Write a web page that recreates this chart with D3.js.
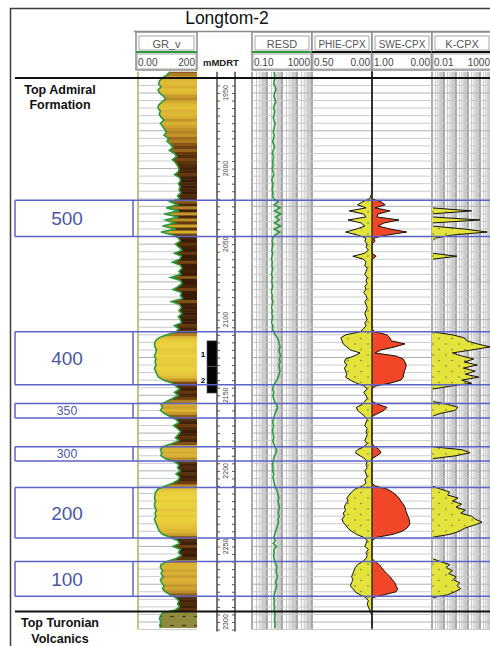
<!DOCTYPE html>
<html>
<head>
<meta charset="utf-8">
<script src="https://cdn.jsdelivr.net/npm/d3@7"></script>
<style>
  html, body { margin: 0; padding: 0; background: #fff; }
  svg { display: block; font-family: "Liberation Sans", Arial, sans-serif; }
</style>
</head>
<body>
<svg id="chart" width="490" height="646"></svg>
<script>
// ---- Well data -------------------------------------------------------------
const wellName = "Longtom-2";
const depthStart = 1936;   // first sample, m MDRT
const depthStep = 2;       // sample interval, m

// Gamma ray (API), 2 m samples from 1936 m
const gr = [
  110,100,85,75,72,80,70,75,88,95,
  82,72,70,78,74,80,90,78,85,92,
  98,90,105,100,112,120,108,125,132,118,
  128,135,140,138,125,142,145,138,144,140,
  146,135,142,110,135,98,140,90,138,95,
  125,85,130,80,120,138,145,128,140,150,
  125,148,142,118,145,150,140,146,112,145,
  150,138,120,148,145,152,115,142,148,140,
  150,138,145,148,125,140,130,100,72,62,
  58,60,65,62,58,63,60,64,58,62,
  66,72,90,118,130,142,125,138,120,100,
  80,85,78,90,110,130,140,122,135,145,
  138,128,140,115,85,78,82,80,95,125,
  140,135,145,130,142,138,120,95,70,62,
  60,58,62,58,60,65,60,63,58,62,
  66,70,75,85,110,135,142,120,145,138,
  148,130,100,80,78,85,80,88,78,82,
  90,85,95,110,130,140,135,142,128,85,
  78,75,80,76,78
];

// Deep resistivity (ohm.m)
const resd = [
  3.0,3.2,3.5,3.0,2.8,3.6,4.0,3.2,2.9,3.4,
  3.8,3.1,2.7,3.3,3.0,2.6,2.9,3.5,3.1,2.8,
  2.6,3.0,2.7,2.4,2.8,3.2,2.5,2.3,2.7,2.5,
  2.4,2.6,2.2,2.5,2.8,2.3,2.1,2.6,2.4,2.2,
  2.5,2.3,2.8,5.5,3.0,7.5,3.2,8.5,3.8,6.5,
  3.2,8.0,3.0,7.0,3.4,2.4,2.2,2.5,2.3,2.1,
  2.4,2.2,2.0,2.3,2.1,2.4,2.2,2.0,2.3,2.1,
  2.2,2.4,2.1,2.0,2.3,2.1,2.5,2.2,2.0,2.3,
  2.1,2.4,2.2,2.0,2.5,2.3,2.8,3.5,5.0,6.0,
  6.5,7.5,6.2,7.0,8.0,6.5,7.5,6.0,6.8,7.2,
  6.4,5.6,4.5,3.4,2.6,2.4,2.8,2.5,2.7,3.2,
  4.2,5.0,4.2,3.5,3.0,2.6,2.4,2.7,2.5,2.3,
  2.6,2.8,2.4,2.7,3.5,4.2,4.0,3.3,2.8,2.5,
  2.3,2.6,2.4,2.8,2.5,2.7,3.0,3.4,4.2,5.0,
  5.5,6.2,5.4,6.0,6.8,6.0,5.6,6.4,5.4,5.8,
  5.0,4.4,3.8,3.3,2.8,3.6,2.6,4.2,2.8,3.0,
  2.7,3.0,3.4,4.0,4.6,4.0,4.4,5.0,4.2,3.8,
  4.4,3.9,3.4,3.0,2.8,3.1,2.9,3.2,3.0,3.3,
  3.5,3.2,3.4,3.6,3.3
];

// Effective porosity (v/v)
const phie = [
  0,0,0,0,0,0,0,0,0,0,
  0,0,0,0,0,0,0,0,0,0,
  0,0,0,0,0,0,0,0,0,0,
  0,0,0,0,0,0,0,0,0,0,
  0,0.01,0.02,0.08,0.12,0.05,0.19,0.07,0.05,0.20,
  0.09,0.06,0.13,0.22,0.12,0.05,0.06,0.04,0.05,0.03,
  0.06,0.16,0.07,0.05,0.06,0.04,0.05,0.06,0.04,0.05,
  0.04,0.06,0.05,0.07,0.05,0.04,0.06,0.05,0.04,0.05,
  0.06,0.05,0.04,0.06,0.05,0.07,0.10,0.22,0.26,0.25,
  0.24,0.21,0.18,0.10,0.15,0.22,0.23,0.21,0.23,0.22,
  0.21,0.22,0.18,0.13,0.06,0.04,0.07,0.05,0.04,0.06,
  0.08,0.13,0.12,0.09,0.06,0.04,0.05,0.06,0.04,0.05,
  0.04,0.05,0.06,0.04,0.07,0.12,0.14,0.10,0.06,0.04,
  0.05,0.04,0.06,0.05,0.04,0.06,0.05,0.08,0.14,0.17,
  0.19,0.21,0.20,0.22,0.23,0.22,0.24,0.23,0.25,0.24,
  0.22,0.20,0.17,0.13,0.07,0.04,0.05,0.06,0.03,0.05,
  0.04,0.05,0.08,0.12,0.14,0.15,0.16,0.17,0.16,0.17,
  0.18,0.16,0.14,0.10,0.05,0.03,0.04,0.03,0.02,0.01,
  0,0,0,0,0
];

// Effective water saturation (v/v)
const swe = [
  1,1,1,1,1,1,1,1,1,1,
  1,1,1,1,1,1,1,1,1,1,
  1,1,1,1,1,1,1,1,1,1,
  1,1,1,1,1,1,1,1,1,1,
  1,1,1,0.85,0.78,0.95,0.70,0.90,0.92,0.55,
  0.80,0.90,0.70,0.42,0.75,0.97,0.95,1,1,1,
  1,0.93,1,1,1,1,1,1,1,1,
  1,1,1,1,1,1,1,1,1,1,
  1,1,1,1,1,1,0.95,0.75,0.70,0.68,
  0.45,0.62,0.85,0.95,0.60,0.48,0.45,0.43,0.44,0.46,
  0.47,0.48,0.52,0.70,0.95,1,1,1,1,1,
  0.90,0.75,0.80,0.90,1,1,1,1,1,1,
  1,1,1,1,0.95,0.88,0.85,0.92,1,1,
  1,1,1,1,1,1,1,0.95,0.75,0.66,
  0.60,0.55,0.52,0.48,0.45,0.44,0.42,0.40,0.38,0.37,
  0.38,0.42,0.50,0.65,0.92,1,1,1,1,1,
  1,1,0.95,0.88,0.84,0.80,0.75,0.70,0.66,0.62,
  0.60,0.57,0.60,0.80,1,1,1,1,1,1,
  1,1,1,1,1
];

// Permeability (mD); 0.01 is the track floor
const perm = [
  0.01,0.01,0.01,0.01,0.01,0.01,0.01,0.01,0.01,0.01,
  0.01,0.01,0.01,0.01,0.01,0.01,0.01,0.01,0.01,0.01,
  0.01,0.01,0.01,0.01,0.01,0.01,0.01,0.01,0.01,0.01,
  0.01,0.01,0.01,0.01,0.01,0.01,0.01,0.01,0.01,0.01,
  0.01,0.01,0.01,0.01,0.01,0.01,20,0.01,0.01,100,
  0.01,0.01,5,400,0.5,0.02,0.01,0.01,0.01,0.01,
  0.01,1.2,0.01,0.01,0.01,0.01,0.01,0.01,0.01,0.01,
  0.01,0.01,0.01,0.01,0.01,0.01,0.01,0.01,0.01,0.01,
  0.01,0.01,0.01,0.01,0.01,0.01,0.01,0.5,5,8,
  60,700,20,0.5,3,30,5,60,4,40,
  6,80,3,20,0.3,0.01,0.01,0.01,0.01,0.01,
  0.2,1.5,0.8,0.05,0.01,0.01,0.01,0.01,0.01,0.01,
  0.01,0.01,0.01,0.01,0.01,3,15,1,0.01,0.01,
  0.01,0.01,0.01,0.01,0.01,0.01,0.01,0.01,0.05,0.3,
  0.2,1.5,0.5,3,1,6,2.5,20,40,150,
  30,5,2,0.3,0.01,0.01,0.01,0.01,0.01,0.01,
  0.01,0.01,0.05,0.3,0.15,0.5,0.25,1,0.6,2,
  1.2,2.5,0.8,0.2,0.01,0.01,0.01,0.01,0.01,0.01,
  0.01,0.01,0.01,0.01,0.01
];

// Reservoir zones (m MDRT)
const zoneLabels = ["500", "400", "350", "300", "200", "100"];
const zoneTops   = [2021, 2108, 2155.5, 2184, 2211, 2260];
const zoneBases  = [2045, 2143, 2165, 2193.5, 2244.5, 2283];

// Formation tops
const topNames  = [["Top Admiral", "Formation"], ["Top Turonian", "Volcanics"]];
const topDepths = [1940, 2293];

// Core intervals
const coreLabels = ["1", "2"];
const coreTops   = [2114, 2131];
const coreBases  = [2131, 2148.5];

// Depth annotation
const depthLabels = [1950, 2000, 2050, 2100, 2150, 2200, 2250, 2300];

// Track headers
const trackNames = ["GR_v", "RESD", "PHIE-CPX", "SWE-CPX", "K-CPX"];
const trackLeft  = ["0.00", "0.10", "0.50", "1.00", "0.01"];
const trackRight = ["200", "1000", "0.00", "0.00", "1000"];

// ---- Layout ----------------------------------------------------------------
const svg = d3.select("#chart");
const samples = gr.map((v, i) => ({
  depth: depthStart + i * depthStep,
  gr: v, resd: resd[i], phie: phie[i], swe: swe[i], perm: perm[i]
}));
const depthEnd = 2305;

const y = d3.scaleLinear().domain([1950, 2300]).range([93, 622]);
const yTop = y(depthStart), yBot = y(depthEnd);

const X = { gr: [137, 197], depth: [197, 250], res: [252, 312], phi: [312, 372], sw: [372, 432], k: [432, 492] };
const xGR  = d3.scaleLinear().domain([0, 200]).range(X.gr).clamp(true);
const xRes = d3.scaleLog().domain([0.1, 1000]).range(X.res).clamp(true);
const xPhi = d3.scaleLinear().domain([0.5, 0]).range(X.phi).clamp(true);
const xSw  = d3.scaleLinear().domain([1, 0]).range(X.sw).clamp(true);
const xK   = d3.scaleLog().domain([0.01, 1000]).range(X.k).clamp(true);

const grColor = d3.scaleLinear()
  .domain([58, 80, 100, 120, 145])
  .range(["#ecd23e", "#d8b032", "#b07e22", "#6e4012", "#3a1c07"])
  .clamp(true);

const BLUE = "#5b63c6", BLUE_TEXT = "#4a57a6", GREEN = "#2c9a3b";
const YELLOW = "#e3e33b", RED = "#ef4727";

// ---- Defs ------------------------------------------------------------------
const defs = svg.append("defs");
const sand = defs.append("pattern").attr("id", "sand").attr("patternUnits", "userSpaceOnUse")
  .attr("width", 13).attr("height", 11);
sand.append("rect").attr("width", 13).attr("height", 11).attr("fill", YELLOW);
sand.append("circle").attr("cx", 4).attr("cy", 3).attr("r", 0.7).attr("fill", "#555");
sand.append("circle").attr("cx", 10).attr("cy", 8.5).attr("r", 0.7).attr("fill", "#555");

const volc = defs.append("pattern").attr("id", "volc").attr("patternUnits", "userSpaceOnUse")
  .attr("width", 12).attr("height", 9);
volc.append("rect").attr("width", 12).attr("height", 9).attr("fill", "#8e8b3c");
volc.append("line").attr("x1", 2).attr("x2", 6).attr("y1", 4.5).attr("y2", 4.5)
  .attr("stroke", "#3f3d16").attr("stroke-width", 1.2);

const grClipArea = d3.area().y(d => y(d.depth)).x0(d => xGR(d.gr)).x1(X.gr[1]);
defs.append("clipPath").attr("id", "grclip").append("path").attr("d", grClipArea(samples));
defs.append("clipPath").attr("id", "kclip").append("rect")
  .attr("x", X.k[0] + 1).attr("y", yTop).attr("width", 80).attr("height", yBot - yTop);

// ---- Frame and title ---------------------------------------------------------
svg.append("rect").attr("x", 10.5).attr("y", 8.5).attr("width", 520).attr("height", 700)
  .attr("fill", "none").attr("stroke", "#3c3c3c").attr("stroke-width", 1.5);
svg.append("text").attr("x", 227).attr("y", 24).attr("text-anchor", "middle")
  .attr("font-size", 17.5).attr("fill", "#111").text(wellName);

// ---- Grids -----------------------------------------------------------------
const grid = svg.append("g");
function logGrid(scale, decades) {
  decades.forEach(e => {
    for (let m = 1; m <= 9; m++) {
      const v = m * Math.pow(10, e);
      grid.append("line").attr("x1", scale(v)).attr("x2", scale(v)).attr("y1", yTop).attr("y2", yBot)
        .attr("stroke", m === 1 ? "#a2a2a2" : "#c6c6c6").attr("stroke-width", m === 1 ? 1.8 : 1);
    }
  });
  const last = scale.domain()[1];
  grid.append("line").attr("x1", scale(last)).attr("x2", scale(last)).attr("y1", yTop).attr("y2", yBot)
    .attr("stroke", "#a2a2a2").attr("stroke-width", 1.8);
}
logGrid(xRes, [-1, 0, 1, 2]);
logGrid(xK, [-2, -1, 0, 1, 2]);

const gridDepths = d3.range(1940, depthEnd + 1, 5);
[[X.gr[0] + 2, X.gr[1]], [X.res[0], X.k[1]]].forEach(([a, b]) => {
  grid.selectAll(null).data(gridDepths).enter().append("line")
    .attr("x1", a).attr("x2", b).attr("y1", d => y(d)).attr("y2", d => y(d))
    .attr("stroke", d => d % 25 === 0 ? "#b0b0b0" : "#cacaca").attr("stroke-width", 1);
});

// ---- GR track ----------------------------------------------------------------
svg.append("line").attr("x1", X.gr[0] + 1).attr("x2", X.gr[0] + 1).attr("y1", yTop).attr("y2", yBot)
  .attr("stroke", "#c8bf86").attr("stroke-width", 2);
const grFill = svg.append("g").attr("clip-path", "url(#grclip)");
grFill.selectAll("rect").data(samples).enter().append("rect")
  .attr("x", X.gr[0]).attr("width", X.gr[1] - X.gr[0])
  .attr("y", d => y(d.depth - depthStep / 2))
  .attr("height", d => y(d.depth + depthStep / 2) - y(d.depth - depthStep / 2) + 0.5)
  .attr("fill", d => d.depth >= topDepths[1] ? "url(#volc)" : grColor(d.gr));
svg.append("path").datum(samples)
  .attr("d", d3.line().y(d => y(d.depth)).x(d => xGR(d.gr)))
  .attr("fill", "none").attr("stroke", GREEN).attr("stroke-width", 1.6);

// ---- Depth track -------------------------------------------------------------
const dTrack = svg.append("g");
[217, 235].forEach(x => dTrack.append("line").attr("x1", x).attr("x2", x).attr("y1", yTop).attr("y2", yBot + 2)
  .attr("stroke", "#555").attr("stroke-width", 1.6));
dTrack.append("g").attr("transform", "translate(217,0)")
  .call(d3.axisRight(y).tickValues(gridDepths).tickSize(3).tickFormat(""))
  .call(g => g.select(".domain").remove())
  .call(g => g.selectAll("line").attr("stroke", "#555"));
dTrack.append("g").attr("transform", "translate(235,0)")
  .call(d3.axisLeft(y).tickValues(gridDepths).tickSize(3).tickFormat(""))
  .call(g => g.select(".domain").remove())
  .call(g => g.selectAll("line").attr("stroke", "#555"));
dTrack.selectAll("g.dl").data(depthLabels).enter().append("g")
  .attr("transform", d => `translate(226,${y(d)}) rotate(-90)`)
  .call(g => {
    g.append("rect").attr("x", -8).attr("y", -4).attr("width", 16).attr("height", 8).attr("fill", "#fff");
    g.append("text").attr("text-anchor", "middle").attr("dy", "0.35em")
      .attr("font-size", 7).attr("fill", "#444").text(d => d);
  });

// Core intervals
coreLabels.forEach((lab, i) => {
  svg.append("rect").attr("x", 207).attr("y", y(coreTops[i])).attr("width", 10)
    .attr("height", y(coreBases[i]) - y(coreTops[i])).attr("fill", "#050505")
    .attr("stroke", "#555").attr("stroke-width", 0.6);
  svg.append("text").attr("x", 203).attr("y", (y(coreTops[i]) + y(coreBases[i])) / 2 + 3)
    .attr("text-anchor", "middle").attr("font-size", 8).attr("font-weight", "bold").text(lab);
});

// ---- Resistivity -------------------------------------------------------------
svg.append("path").datum(samples)
  .attr("d", d3.line().y(d => y(d.depth)).x(d => xRes(d.resd)))
  .attr("fill", "none").attr("stroke", GREEN).attr("stroke-width", 1.6);

// ---- Porosity ----------------------------------------------------------------
svg.append("path").datum(samples)
  .attr("d", d3.area().y(d => y(d.depth)).x0(d => xPhi(d.phie)).x1(xPhi(0)))
  .attr("fill", "url(#sand)");
svg.append("path").datum(samples)
  .attr("d", d3.line().y(d => y(d.depth)).x(d => xPhi(d.phie)))
  .attr("fill", "none").attr("stroke", "#111").attr("stroke-width", 1);

// ---- Water saturation --------------------------------------------------------
svg.append("path").datum(samples)
  .attr("d", d3.area().y(d => y(d.depth)).x0(xSw(1)).x1(d => xSw(d.swe)))
  .attr("fill", RED);
svg.append("path").datum(samples)
  .attr("d", d3.line().y(d => y(d.depth)).x(d => xSw(d.swe)))
  .attr("fill", "none").attr("stroke", "#111").attr("stroke-width", 1);

// ---- Permeability ------------------------------------------------------------
svg.append("path").datum(samples)
  .attr("d", d3.area().y(d => y(d.depth)).x0(xK(0.01)).x1(d => xK(d.perm)))
  .attr("fill", "url(#sand)");
svg.append("path").datum(samples).attr("clip-path", "url(#kclip)")
  .attr("d", d3.line().y(d => y(d.depth)).x(d => xK(d.perm)))
  .attr("fill", "none").attr("stroke", "#111").attr("stroke-width", 1);

svg.append("line").attr("x1", X.sw[0]).attr("x2", X.sw[0]).attr("y1", yTop - 20).attr("y2", yBot)
  .attr("stroke", "#222").attr("stroke-width", 1.3);

// ---- Zones -------------------------------------------------------------------
const zg = svg.append("g");
zoneLabels.forEach((lab, i) => {
  const y0 = y(zoneTops[i]), y1 = y(zoneBases[i]);
  [y0, y1].forEach(yy => zg.append("line").attr("x1", 15).attr("x2", 492).attr("y1", yy).attr("y2", yy)
    .attr("stroke", BLUE).attr("stroke-width", 1.5));
  [15, 133].forEach(xx => zg.append("line").attr("x1", xx).attr("x2", xx).attr("y1", y0).attr("y2", y1)
    .attr("stroke", BLUE).attr("stroke-width", 1.5));
  zg.append("text").attr("x", 67).attr("y", (y0 + y1) / 2).attr("dy", "0.36em")
    .attr("text-anchor", "middle").attr("fill", BLUE_TEXT)
    .attr("font-size", Math.min(19, (y1 - y0) * 0.85)).text(lab);
});

// ---- Formation tops ------------------------------------------------------------
topNames.forEach((lines, i) => {
  const yy = y(topDepths[i]);
  svg.append("line").attr("x1", 15).attr("x2", 492).attr("y1", yy).attr("y2", yy)
    .attr("stroke", "#111").attr("stroke-width", 2);
  lines.forEach((t, j) => svg.append("text").attr("x", 60).attr("y", yy + 16 + j * 15.5)
    .attr("text-anchor", "middle").attr("font-size", 12.5).attr("font-weight", "bold")
    .attr("fill", "#111").text(t));
});

// ---- Headers -----------------------------------------------------------------
const hdr = svg.append("g");
hdr.append("line").attr("x1", 134).attr("x2", 492).attr("y1", 31.5).attr("y2", 31.5)
  .attr("stroke", "#8c8c8c").attr("stroke-width", 1.5);
const hdrTracks = [X.gr, X.res, X.phi, X.sw, X.k];
const hdrColors = [GREEN, GREEN, "#111", "#111", "#111"];
hdrTracks.forEach((r, i) => {
  const [a, b] = r;
  const x0 = i === 0 ? a - 1 : a;
  hdr.append("rect").attr("x", x0).attr("y", 32).attr("width", b - x0).attr("height", 38)
    .attr("fill", "#fff").attr("stroke", "#8c8c8c").attr("stroke-width", 1.5);
  hdr.append("rect").attr("x", x0 + 3).attr("y", 36).attr("width", b - x0 - 6).attr("height", 14)
    .attr("fill", "none").attr("stroke", "#a5a5a5").attr("stroke-width", 1);
  hdr.append("text").attr("x", (x0 + b) / 2).attr("y", 47.5).attr("text-anchor", "middle")
    .attr("font-size", i >= 2 && i <= 3 ? 10 : 11).attr("fill", "#555").text(trackNames[i]);
  hdr.append("line").attr("x1", x0).attr("x2", b).attr("y1", 52).attr("y2", 52)
    .attr("stroke", hdrColors[i]).attr("stroke-width", 2);
  hdr.append("rect").attr("x", x0 + 1).attr("y", 54).attr("width", b - x0 - 2).attr("height", 15)
    .attr("fill", "none").attr("stroke", "#a5a5a5").attr("stroke-width", 1);
  hdr.append("text").attr("x", x0 + 2).attr("y", 65.5).attr("font-size", 10).attr("fill", "#444").text(trackLeft[i]);
  hdr.append("text").attr("x", b - 2).attr("y", 65.5).attr("text-anchor", "end").attr("font-size", 10)
    .attr("fill", "#444").text(trackRight[i]);
});
hdr.append("text").attr("x", 203).attr("y", 66).attr("font-size", 9.5).attr("font-weight", "bold")
  .attr("fill", "#222").text("mMDRT");
</script>
</body>
</html>
